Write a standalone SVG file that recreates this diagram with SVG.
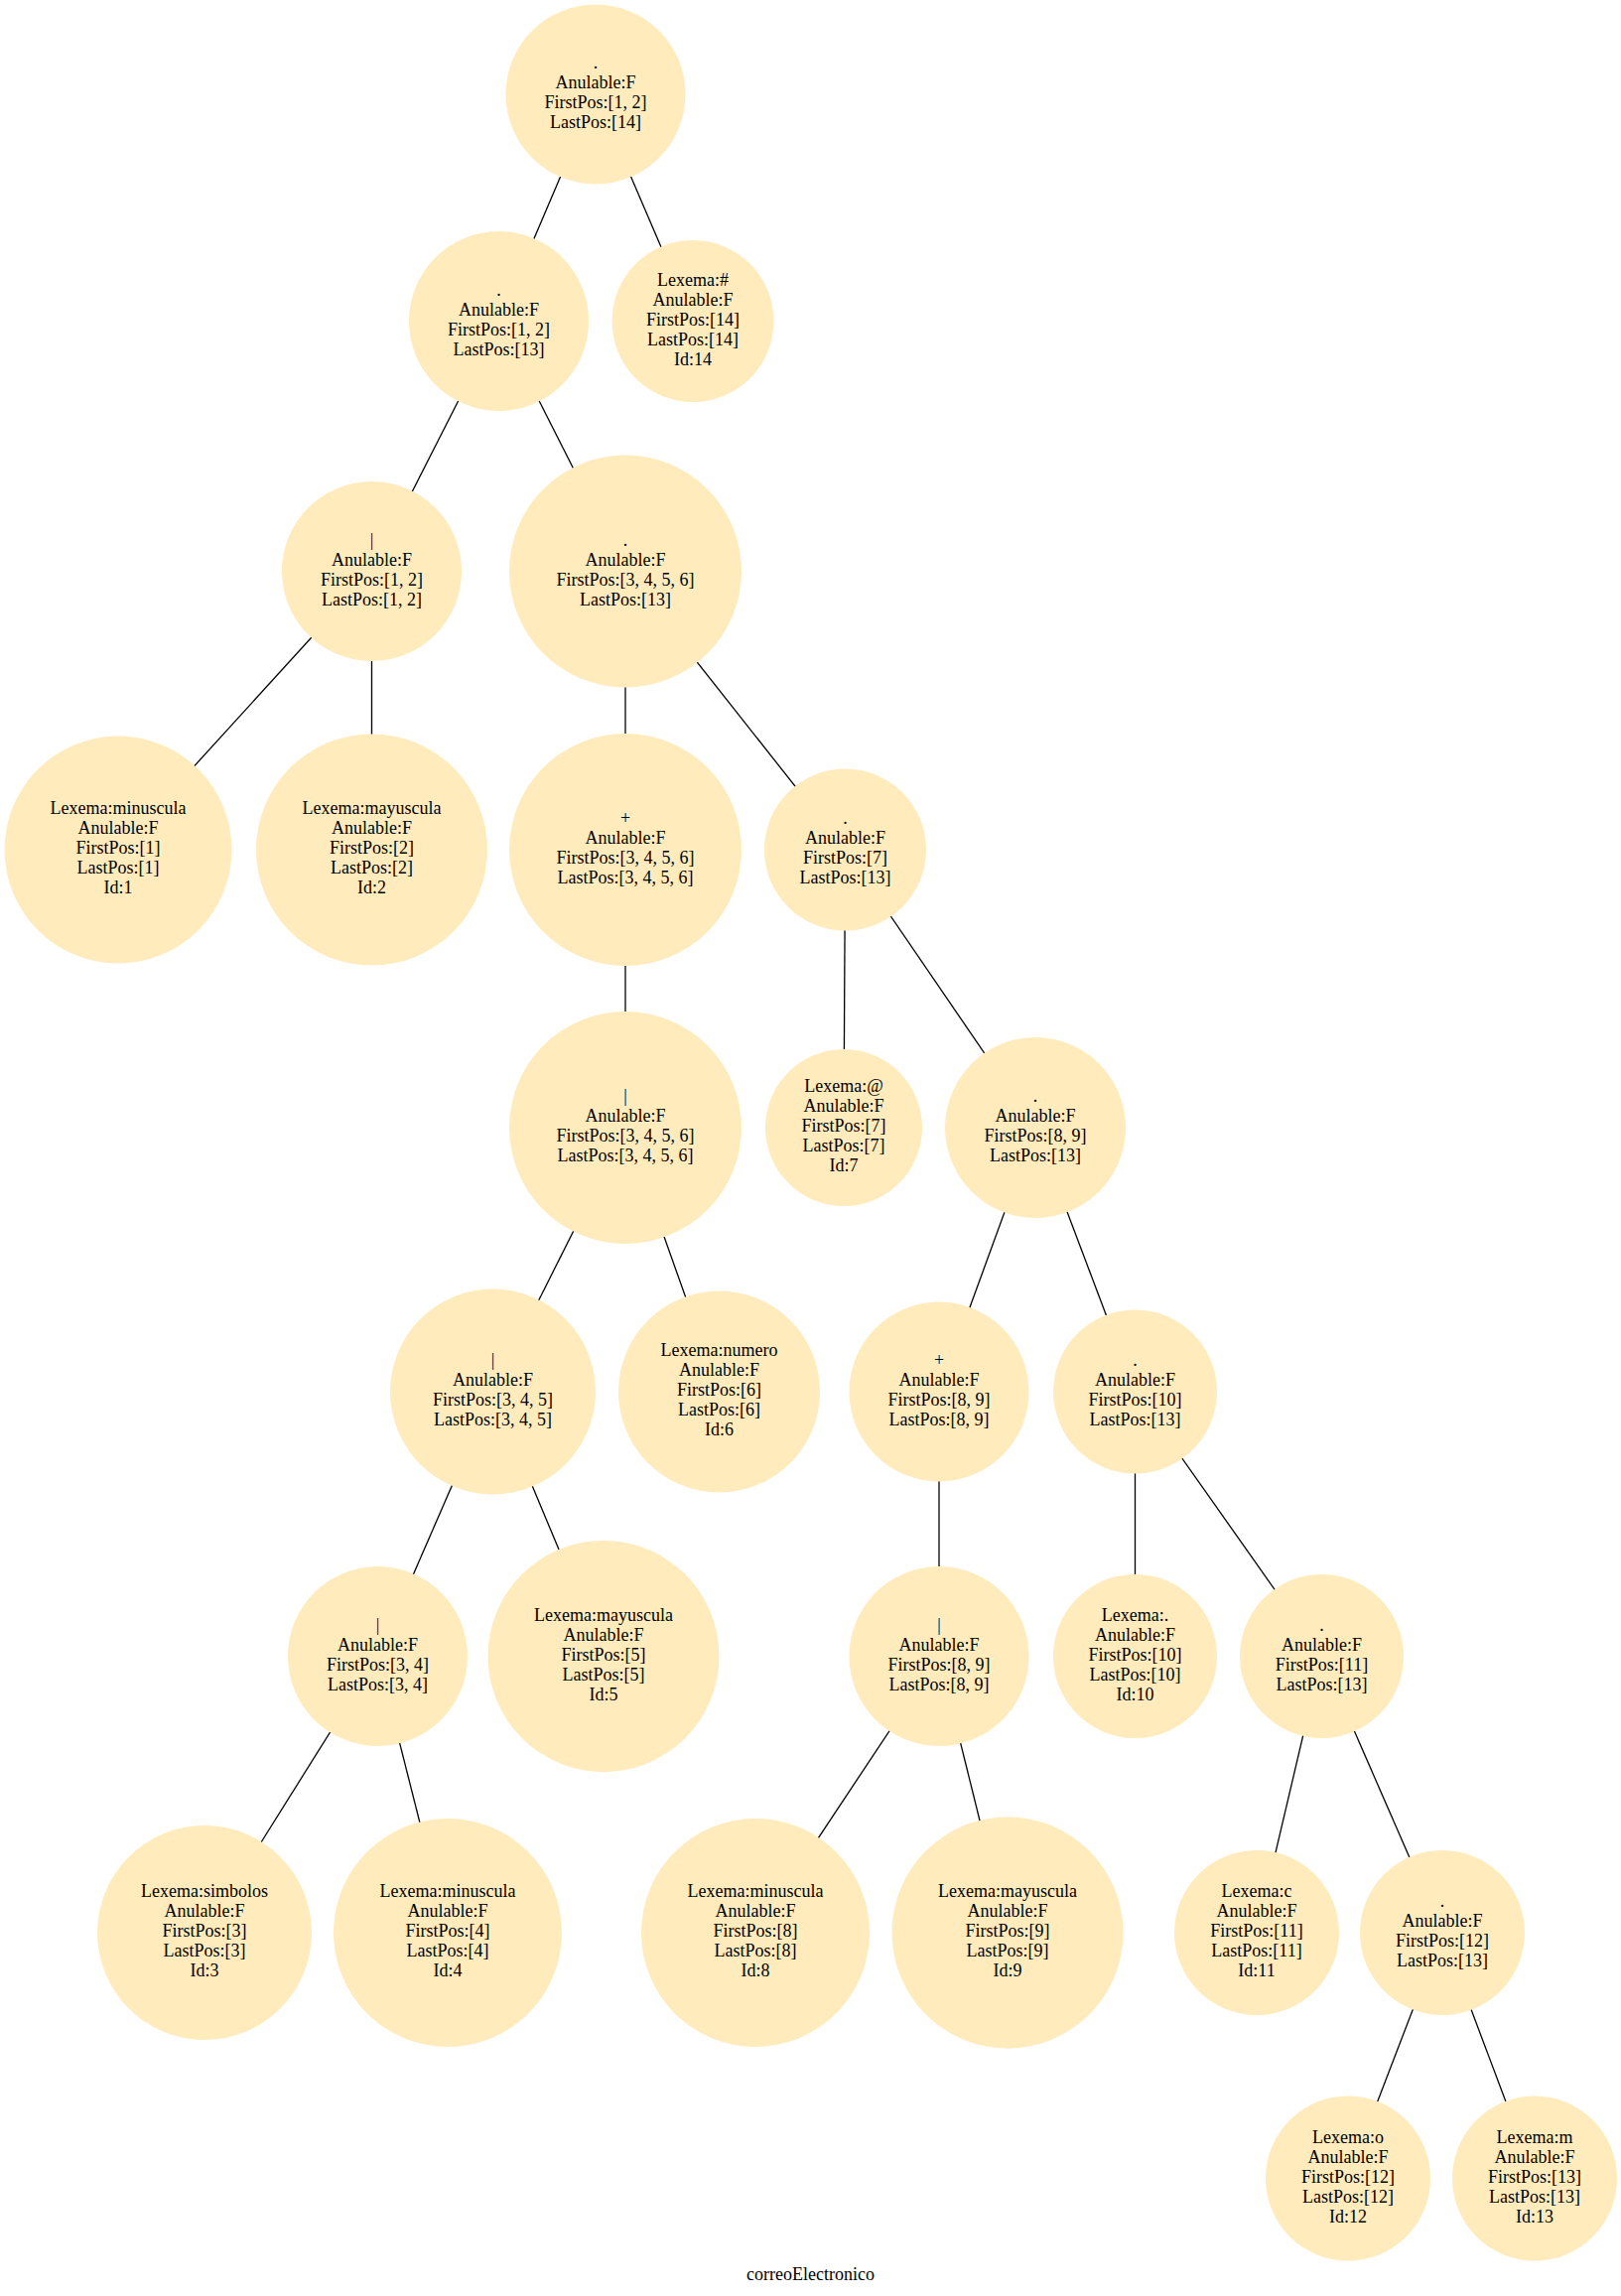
<svg xmlns="http://www.w3.org/2000/svg" width="1633" height="2313" viewBox="0 0 1633 2313">
<style>
.node circle{fill:#FFEBBB;stroke:none}
.node text,.title{font-family:"Liberation Serif","Times New Roman",serif;font-size:18px;fill:#000;text-anchor:middle}
.edges line{stroke:#000;stroke-width:1.3}
</style>
<rect width="1633" height="2313" fill="#fff"/>
<g id="edges" class="edges">
<line x1="600" y1="95" x2="502.5" y2="323.5"/>
<line x1="600" y1="95" x2="698" y2="323.5"/>
<line x1="502.5" y1="323.5" x2="374.5" y2="575.5"/>
<line x1="502.5" y1="323.5" x2="630" y2="575.5"/>
<line x1="374.5" y1="575.5" x2="119" y2="856"/>
<line x1="374.5" y1="575.5" x2="374.5" y2="856"/>
<line x1="630" y1="575.5" x2="630" y2="856"/>
<line x1="630" y1="575.5" x2="851.5" y2="856"/>
<line x1="630" y1="856" x2="630" y2="1136"/>
<line x1="851.5" y1="856" x2="850" y2="1136"/>
<line x1="851.5" y1="856" x2="1043" y2="1136"/>
<line x1="630" y1="1136" x2="496.5" y2="1402"/>
<line x1="630" y1="1136" x2="724.5" y2="1402"/>
<line x1="1043" y1="1136" x2="946" y2="1402"/>
<line x1="1043" y1="1136" x2="1143.5" y2="1402"/>
<line x1="496.5" y1="1402" x2="380.5" y2="1668.5"/>
<line x1="496.5" y1="1402" x2="608" y2="1668.5"/>
<line x1="946" y1="1402" x2="946" y2="1668.5"/>
<line x1="1143.5" y1="1402" x2="1143.5" y2="1668.5"/>
<line x1="1143.5" y1="1402" x2="1331.5" y2="1668.5"/>
<line x1="380.5" y1="1668.5" x2="206" y2="1947"/>
<line x1="380.5" y1="1668.5" x2="451" y2="1947"/>
<line x1="946" y1="1668.5" x2="761" y2="1947"/>
<line x1="946" y1="1668.5" x2="1015" y2="1947"/>
<line x1="1331.5" y1="1668.5" x2="1266" y2="1947"/>
<line x1="1331.5" y1="1668.5" x2="1453" y2="1947"/>
<line x1="1453" y1="1947" x2="1358" y2="2194.5"/>
<line x1="1453" y1="1947" x2="1546" y2="2194.5"/>
</g>
<g id="n0" class="node"><circle cx="600" cy="95" r="90.5"/><text x="600" y="69"><tspan x="600">.</tspan><tspan x="600" dy="20">Anulable:F</tspan><tspan x="600" dy="20">FirstPos:[1, 2]</tspan><tspan x="600" dy="20">LastPos:[14]</tspan></text></g>
<g id="n1" class="node"><circle cx="502.5" cy="323.5" r="90.5"/><text x="502.5" y="297.5"><tspan x="502.5">.</tspan><tspan x="502.5" dy="20">Anulable:F</tspan><tspan x="502.5" dy="20">FirstPos:[1, 2]</tspan><tspan x="502.5" dy="20">LastPos:[13]</tspan></text></g>
<g id="n2" class="node"><circle cx="698" cy="323.5" r="81.5"/><text x="698" y="287.5"><tspan x="698">Lexema:#</tspan><tspan x="698" dy="20">Anulable:F</tspan><tspan x="698" dy="20">FirstPos:[14]</tspan><tspan x="698" dy="20">LastPos:[14]</tspan><tspan x="698" dy="20">Id:14</tspan></text></g>
<g id="n3" class="node"><circle cx="374.5" cy="575.5" r="90.5"/><text x="374.5" y="549.5"><tspan x="374.5">|</tspan><tspan x="374.5" dy="20">Anulable:F</tspan><tspan x="374.5" dy="20">FirstPos:[1, 2]</tspan><tspan x="374.5" dy="20">LastPos:[1, 2]</tspan></text></g>
<g id="n4" class="node"><circle cx="630" cy="575.5" r="117"/><text x="630" y="549.5"><tspan x="630">.</tspan><tspan x="630" dy="20">Anulable:F</tspan><tspan x="630" dy="20">FirstPos:[3, 4, 5, 6]</tspan><tspan x="630" dy="20">LastPos:[13]</tspan></text></g>
<g id="n5" class="node"><circle cx="119" cy="856" r="114.5"/><text x="119" y="820"><tspan x="119">Lexema:minuscula</tspan><tspan x="119" dy="20">Anulable:F</tspan><tspan x="119" dy="20">FirstPos:[1]</tspan><tspan x="119" dy="20">LastPos:[1]</tspan><tspan x="119" dy="20">Id:1</tspan></text></g>
<g id="n6" class="node"><circle cx="374.5" cy="856" r="116.5"/><text x="374.5" y="820"><tspan x="374.5">Lexema:mayuscula</tspan><tspan x="374.5" dy="20">Anulable:F</tspan><tspan x="374.5" dy="20">FirstPos:[2]</tspan><tspan x="374.5" dy="20">LastPos:[2]</tspan><tspan x="374.5" dy="20">Id:2</tspan></text></g>
<g id="n7" class="node"><circle cx="630" cy="856" r="117"/><text x="630" y="830"><tspan x="630">+</tspan><tspan x="630" dy="20">Anulable:F</tspan><tspan x="630" dy="20">FirstPos:[3, 4, 5, 6]</tspan><tspan x="630" dy="20">LastPos:[3, 4, 5, 6]</tspan></text></g>
<g id="n8" class="node"><circle cx="851.5" cy="856" r="81.5"/><text x="851.5" y="830"><tspan x="851.5">.</tspan><tspan x="851.5" dy="20">Anulable:F</tspan><tspan x="851.5" dy="20">FirstPos:[7]</tspan><tspan x="851.5" dy="20">LastPos:[13]</tspan></text></g>
<g id="n9" class="node"><circle cx="630" cy="1136" r="117"/><text x="630" y="1110"><tspan x="630">|</tspan><tspan x="630" dy="20">Anulable:F</tspan><tspan x="630" dy="20">FirstPos:[3, 4, 5, 6]</tspan><tspan x="630" dy="20">LastPos:[3, 4, 5, 6]</tspan></text></g>
<g id="n10" class="node"><circle cx="850" cy="1136" r="79"/><text x="850" y="1100"><tspan x="850">Lexema:@</tspan><tspan x="850" dy="20">Anulable:F</tspan><tspan x="850" dy="20">FirstPos:[7]</tspan><tspan x="850" dy="20">LastPos:[7]</tspan><tspan x="850" dy="20">Id:7</tspan></text></g>
<g id="n11" class="node"><circle cx="1043" cy="1136" r="91"/><text x="1043" y="1110"><tspan x="1043">.</tspan><tspan x="1043" dy="20">Anulable:F</tspan><tspan x="1043" dy="20">FirstPos:[8, 9]</tspan><tspan x="1043" dy="20">LastPos:[13]</tspan></text></g>
<g id="n12" class="node"><circle cx="496.5" cy="1402" r="103.5"/><text x="496.5" y="1376"><tspan x="496.5">|</tspan><tspan x="496.5" dy="20">Anulable:F</tspan><tspan x="496.5" dy="20">FirstPos:[3, 4, 5]</tspan><tspan x="496.5" dy="20">LastPos:[3, 4, 5]</tspan></text></g>
<g id="n13" class="node"><circle cx="724.5" cy="1402" r="101.5"/><text x="724.5" y="1366"><tspan x="724.5">Lexema:numero</tspan><tspan x="724.5" dy="20">Anulable:F</tspan><tspan x="724.5" dy="20">FirstPos:[6]</tspan><tspan x="724.5" dy="20">LastPos:[6]</tspan><tspan x="724.5" dy="20">Id:6</tspan></text></g>
<g id="n14" class="node"><circle cx="946" cy="1402" r="90.5"/><text x="946" y="1376"><tspan x="946">+</tspan><tspan x="946" dy="20">Anulable:F</tspan><tspan x="946" dy="20">FirstPos:[8, 9]</tspan><tspan x="946" dy="20">LastPos:[8, 9]</tspan></text></g>
<g id="n15" class="node"><circle cx="1143.5" cy="1402" r="82.5"/><text x="1143.5" y="1376"><tspan x="1143.5">.</tspan><tspan x="1143.5" dy="20">Anulable:F</tspan><tspan x="1143.5" dy="20">FirstPos:[10]</tspan><tspan x="1143.5" dy="20">LastPos:[13]</tspan></text></g>
<g id="n16" class="node"><circle cx="380.5" cy="1668.5" r="90.5"/><text x="380.5" y="1642.5"><tspan x="380.5">|</tspan><tspan x="380.5" dy="20">Anulable:F</tspan><tspan x="380.5" dy="20">FirstPos:[3, 4]</tspan><tspan x="380.5" dy="20">LastPos:[3, 4]</tspan></text></g>
<g id="n17" class="node"><circle cx="608" cy="1668.5" r="116.5"/><text x="608" y="1632.5"><tspan x="608">Lexema:mayuscula</tspan><tspan x="608" dy="20">Anulable:F</tspan><tspan x="608" dy="20">FirstPos:[5]</tspan><tspan x="608" dy="20">LastPos:[5]</tspan><tspan x="608" dy="20">Id:5</tspan></text></g>
<g id="n18" class="node"><circle cx="946" cy="1668.5" r="90.5"/><text x="946" y="1642.5"><tspan x="946">|</tspan><tspan x="946" dy="20">Anulable:F</tspan><tspan x="946" dy="20">FirstPos:[8, 9]</tspan><tspan x="946" dy="20">LastPos:[8, 9]</tspan></text></g>
<g id="n19" class="node"><circle cx="1143.5" cy="1668.5" r="82.5"/><text x="1143.5" y="1632.5"><tspan x="1143.5">Lexema:.</tspan><tspan x="1143.5" dy="20">Anulable:F</tspan><tspan x="1143.5" dy="20">FirstPos:[10]</tspan><tspan x="1143.5" dy="20">LastPos:[10]</tspan><tspan x="1143.5" dy="20">Id:10</tspan></text></g>
<g id="n20" class="node"><circle cx="1331.5" cy="1668.5" r="82.5"/><text x="1331.5" y="1642.5"><tspan x="1331.5">.</tspan><tspan x="1331.5" dy="20">Anulable:F</tspan><tspan x="1331.5" dy="20">FirstPos:[11]</tspan><tspan x="1331.5" dy="20">LastPos:[13]</tspan></text></g>
<g id="n21" class="node"><circle cx="206" cy="1947" r="108"/><text x="206" y="1911"><tspan x="206">Lexema:simbolos</tspan><tspan x="206" dy="20">Anulable:F</tspan><tspan x="206" dy="20">FirstPos:[3]</tspan><tspan x="206" dy="20">LastPos:[3]</tspan><tspan x="206" dy="20">Id:3</tspan></text></g>
<g id="n22" class="node"><circle cx="451" cy="1947" r="115"/><text x="451" y="1911"><tspan x="451">Lexema:minuscula</tspan><tspan x="451" dy="20">Anulable:F</tspan><tspan x="451" dy="20">FirstPos:[4]</tspan><tspan x="451" dy="20">LastPos:[4]</tspan><tspan x="451" dy="20">Id:4</tspan></text></g>
<g id="n23" class="node"><circle cx="761" cy="1947" r="115"/><text x="761" y="1911"><tspan x="761">Lexema:minuscula</tspan><tspan x="761" dy="20">Anulable:F</tspan><tspan x="761" dy="20">FirstPos:[8]</tspan><tspan x="761" dy="20">LastPos:[8]</tspan><tspan x="761" dy="20">Id:8</tspan></text></g>
<g id="n24" class="node"><circle cx="1015" cy="1947" r="116.5"/><text x="1015" y="1911"><tspan x="1015">Lexema:mayuscula</tspan><tspan x="1015" dy="20">Anulable:F</tspan><tspan x="1015" dy="20">FirstPos:[9]</tspan><tspan x="1015" dy="20">LastPos:[9]</tspan><tspan x="1015" dy="20">Id:9</tspan></text></g>
<g id="n25" class="node"><circle cx="1266" cy="1947" r="83"/><text x="1266" y="1911"><tspan x="1266">Lexema:c</tspan><tspan x="1266" dy="20">Anulable:F</tspan><tspan x="1266" dy="20">FirstPos:[11]</tspan><tspan x="1266" dy="20">LastPos:[11]</tspan><tspan x="1266" dy="20">Id:11</tspan></text></g>
<g id="n26" class="node"><circle cx="1453" cy="1947" r="83"/><text x="1453" y="1921"><tspan x="1453">.</tspan><tspan x="1453" dy="20">Anulable:F</tspan><tspan x="1453" dy="20">FirstPos:[12]</tspan><tspan x="1453" dy="20">LastPos:[13]</tspan></text></g>
<g id="n27" class="node"><circle cx="1358" cy="2194.5" r="83"/><text x="1358" y="2158.5"><tspan x="1358">Lexema:o</tspan><tspan x="1358" dy="20">Anulable:F</tspan><tspan x="1358" dy="20">FirstPos:[12]</tspan><tspan x="1358" dy="20">LastPos:[12]</tspan><tspan x="1358" dy="20">Id:12</tspan></text></g>
<g id="n28" class="node"><circle cx="1546" cy="2194.5" r="83"/><text x="1546" y="2158.5"><tspan x="1546">Lexema:m</tspan><tspan x="1546" dy="20">Anulable:F</tspan><tspan x="1546" dy="20">FirstPos:[13]</tspan><tspan x="1546" dy="20">LastPos:[13]</tspan><tspan x="1546" dy="20">Id:13</tspan></text></g>
<text class="title" x="816.5" y="2297">correoElectronico</text>
</svg>
